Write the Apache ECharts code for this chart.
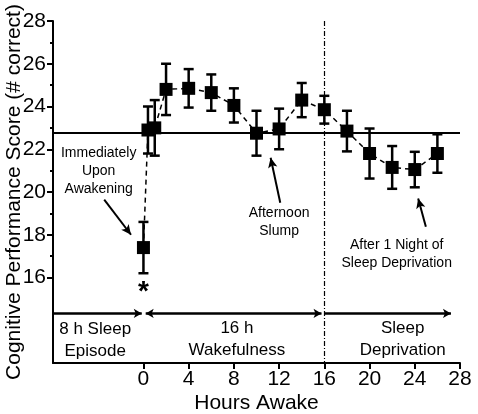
<!DOCTYPE html>
<html><head><meta charset="utf-8">
<script src="https://cdn.jsdelivr.net/npm/echarts@6/dist/echarts.min.js"></script>
<style>html,body{margin:0;padding:0;background:#fff}#c{width:478px;height:414px}</style>
</head><body><div id="c"></div>
<script>
// ---- data ----
const hours  = [0, 0.4, 1, 2, 4, 6, 8, 10, 12, 14, 16, 18, 20, 22, 24, 26];
const scores = [17.4, 22.9, 23.0, 24.8, 24.85, 24.65, 24.05, 22.75, 22.95, 24.3, 23.85, 22.85, 21.8, 21.15, 21.05, 21.8];
const sem    = [1.2, 1.1, 1.3, 1.2, 0.9, 0.85, 0.8, 1.05, 0.95, 0.8, 0.65, 0.95, 1.17, 1.0, 0.83, 0.9];
const xTicks = [0, 4, 8, 12, 16, 20, 24, 28];
const yTicks = [16, 18, 20, 22, 24, 26, 28];
const yMinorTicks = [17, 19, 21, 23, 25, 27];
const baselineScore = 22.78;
const sleepDepStart = 16;
const periodBar = 14.32;
const periodLabels = ['8 h Sleep\nEpisode', '16 h\nWakefulness', 'Sleep\nDeprivation'];
const periodLabelPos = [[-4.27, 13.07], [8.27, 13.12], [22.93, 13.12]];
const notes = ['Immediately\nUpon\nAwakening', 'Afternoon\nSlump', 'After 1 Night of\nSleep Deprivation'];
const notePos = [[-3.96, 20.97], [12.0, 18.58], [22.4, 17.11]];
const noteArrows = [[[-3.47, 19.64], [-1.1, 18.0]], [[12.1, 19.5], [11.25, 21.6]], [[24.98, 18.37], [24.3, 19.7]]];

const FONT = 'Liberation Sans';
const chart = echarts.init(document.getElementById('c'), null, {renderer: 'canvas'});

const pts = hours.map((h, i) => [h, scores[i], sem[i]]);
const solidBlack = {color: '#000', opacity: 1};

const option = {
  animation: false,
  backgroundColor: '#fff',
  textStyle: {fontFamily: FONT, color: '#000'},
  grid: {left: 53, right: 18, top: 21, bottom: 51, containLabel: false, outerBoundsMode: 'none'},
  xAxis: {
    type: 'value', min: -8, max: 28, interval: 4,
    axisLine: {onZero: false, lineStyle: {color: '#000', width: 2}},
    axisTick: {customValues: xTicks, length: 6, lineStyle: {color: '#000', width: 2}},
    axisLabel: {customValues: xTicks, fontSize: 21, color: '#000', margin: 6, fontFamily: FONT},
    splitLine: {show: false},
    name: 'Hours Awake', nameLocation: 'middle', nameGap: 30, nameMoveOverlap: false,
    nameTextStyle: {fontSize: 21, color: '#000', fontFamily: FONT}
  },
  yAxis: [{
    type: 'value', min: 12, max: 28, interval: 2,
    axisLine: {show: true, onZero: false, lineStyle: {color: '#000', width: 2}},
    axisTick: {show: true, customValues: yTicks, length: 6, lineStyle: {color: '#000', width: 2}},
    axisLabel: {customValues: yTicks, fontSize: 21, color: '#000', margin: 7, fontFamily: FONT},
    splitLine: {show: false},
    name: 'Cognitive Performance Score (# correct)', nameLocation: 'middle', nameGap: 28, nameMoveOverlap: false,
    nameTextStyle: {fontSize: 21, color: '#000', fontFamily: FONT}
  }, {
    type: 'value', min: 12, max: 28, position: 'left',
    axisLine: {show: false, onZero: false},
    axisTick: {show: true, customValues: yMinorTicks, length: 3, lineStyle: {color: '#000', width: 2}},
    axisLabel: {show: false},
    splitLine: {show: false}
  }],
  series: [
    {
      type: 'line', data: hours.map((h, i) => [h, scores[i]]),
      symbol: 'none', lineStyle: {color: '#000', width: 1.5, type: [5, 4]}, z: 1,
      markLine: {
        silent: true, animation: false, symbol: 'none', label: {show: false},
        data: [
          [{coord: [-8, baselineScore], lineStyle: {color: '#000', width: 2, type: 'solid'}},
           {coord: [28, baselineScore]}],
          [{coord: [sleepDepStart, 28], lineStyle: {color: '#000', width: 1.2, type: [5, 2, 1, 2]}},
           {coord: [sleepDepStart, 12]}],
          [{coord: [-8, periodBar], symbol: 'none', lineStyle: {color: '#000', width: 2.5, type: 'solid'}},
           {coord: [-0.15, periodBar], symbol: 'arrow', symbolSize: [7, 8]}],
          [{coord: [0.2, periodBar], symbol: 'arrow', symbolSize: [7, 8], lineStyle: {color: '#000', width: 2.5, type: 'solid'}},
           {coord: [15.75, periodBar], symbol: 'arrow', symbolSize: [7, 8]}],
          [{coord: [sleepDepStart, periodBar], symbol: 'none', lineStyle: {color: '#000', width: 2.5, type: 'solid'}},
           {coord: [27.2, periodBar], symbol: 'arrow', symbolSize: [7, 8]}]
        ].concat(noteArrows.map(a => [
          {coord: a[0], symbol: 'none', lineStyle: {color: '#000', width: 2, type: 'solid'}},
          {coord: a[1], symbol: 'arrow', symbolSize: [7, 10]}
        ]))
      }
    },
    {
      type: 'custom', data: pts, z: 3,
      renderItem: function (params, api) {
        const x = api.value(0), y = api.value(1), e = api.value(2);
        const t = api.coord([x, y + e]), b = api.coord([x, y - e]);
        const hw = 5, st = {stroke: '#000', lineWidth: 2.5};
        return {type: 'group', children: [
          {type: 'line', shape: {x1: t[0], y1: t[1], x2: b[0], y2: b[1]}, style: st},
          {type: 'line', shape: {x1: t[0] - hw, y1: t[1], x2: t[0] + hw, y2: t[1]}, style: st},
          {type: 'line', shape: {x1: b[0] - hw, y1: b[1], x2: b[0] + hw, y2: b[1]}, style: st}
        ]};
      }
    },
    {
      type: 'scatter', data: hours.map((h, i) => [h, scores[i]]), z: 4,
      symbol: 'rect', symbolSize: 13, itemStyle: solidBlack
    },
    {
      type: 'scatter', z: 5, symbolSize: 0, silent: true, itemStyle: solidBlack,
      data: notes.map((t, i) => ({value: notePos[i], label: {formatter: t}})),
      label: {show: true, position: 'inside', fontSize: 14, lineHeight: 18, color: '#000', fontFamily: FONT, align: 'center', verticalAlign: 'middle'}
    },
    {
      type: 'scatter', z: 5, symbolSize: 0, silent: true, itemStyle: solidBlack,
      data: periodLabels.map((t, i) => ({value: periodLabelPos[i], label: {formatter: t}})),
      label: {show: true, position: 'inside', fontSize: 17, lineHeight: 22, color: '#000', fontFamily: FONT, align: 'center', verticalAlign: 'middle'}
    },
    {
      type: 'scatter', z: 5, symbolSize: 0, silent: true, itemStyle: solidBlack,
      data: [{value: [0, 15.3], label: {formatter: '*'}}],
      label: {show: true, position: 'inside', fontSize: 28, fontWeight: 'bold', color: '#000', fontFamily: FONT}
    }
  ]
};
chart.setOption(option);
</script>
</body></html>
